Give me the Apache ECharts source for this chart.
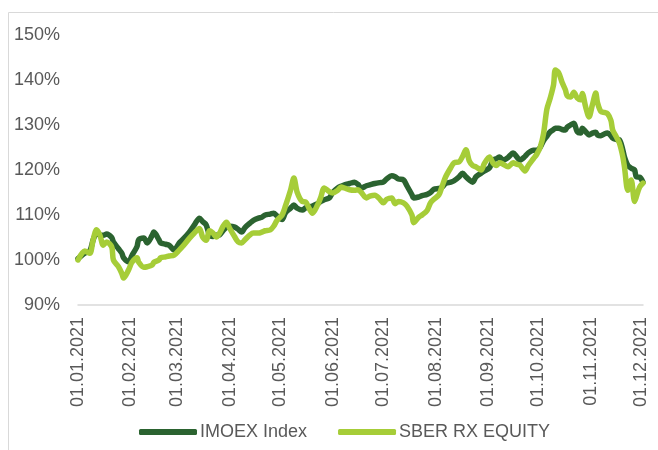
<!DOCTYPE html>
<html>
<head>
<meta charset="utf-8">
<script src="https://cdn.jsdelivr.net/npm/echarts@6/dist/echarts.min.js"></script>
<style>
    html, body { margin: 0; padding: 0; background: #fff; }
    #chart { width: 658px; height: 450px; }
</style>
</head>
<body>
<div id="chart"></div>
<script>
// days since 01.01.2021
let days = [0, 4, 7, 9, 11, 13, 15, 17, 20, 21, 24, 26, 27, 30, 32, 35, 36, 39, 41, 44, 45, 48, 49, 52, 54, 57,
    60, 62, 66, 69, 72, 74, 76, 78, 80, 82, 84, 86, 88, 90, 93, 95, 97, 99, 102, 104, 107, 109, 111, 114, 116, 118,
    121, 123, 126, 128, 130, 133, 135, 137, 139, 142, 144, 146, 149, 151, 154, 156, 158, 161, 164, 166, 168, 171,
    173, 176, 179, 181, 183, 186, 188, 190, 193, 195, 198, 199, 202, 204, 207, 209, 211, 214, 216, 218, 221, 223,
    226, 228, 230, 232, 234, 236, 239, 241, 244, 246, 248, 250, 252, 255, 258, 260, 262, 265, 267, 270, 272, 274,
    276, 278, 280, 282, 283, 285, 287, 289, 290, 292, 294, 296, 298, 299, 301, 303, 305, 307, 308, 310, 312, 314,
    316, 317, 319, 321, 323, 324, 326, 328, 330, 331, 333, 335];

let imoex = [100.3, 101.5, 102.0, 104.5, 106.0, 105.5, 105.5, 105.8, 105.0, 104.0, 102.5, 101.5, 100.5, 99.6, 101.0,
    103.0, 104.5, 104.9, 103.8, 105.5, 106.2, 104.5, 103.8, 103.5, 103.3, 102.2,
    103.8, 104.5, 106.2, 107.8, 109.3, 108.5, 107.8, 105.5, 105.2, 105.5, 105.6, 106.5, 107.3, 107.5, 107.3, 106.8,
    106.2, 107.2, 108.2, 108.8, 109.3, 109.5, 110.0, 110.2, 110.4, 109.8,
    109.0, 110.5, 111.5, 112.2, 111.5, 111.1, 111.6, 111.8, 112.0, 112.5, 113.0, 113.4, 113.8, 115.0, 116.0, 116.4,
    116.7, 117.0, 117.3, 116.8, 116.0, 116.5,
    116.7, 117.0, 117.2, 117.3, 118.0, 118.7, 118.5, 118.0, 117.8, 116.5, 114.5, 113.8, 114.0, 114.3, 114.6, 115.0,
    115.7, 115.9, 116.2, 117.0, 117.3, 117.6,
    118.5, 119.3, 118.5, 117.8, 117.3, 118.5, 119.3, 119.8, 120.5, 122.2, 122.5, 122.9, 122.2, 122.8, 123.8, 123.0,
    122.2, 123.0, 123.8, 124.4, 124.4, 125.0,
    126.5, 127.5, 128.5, 129.0, 129.3, 129.3, 129.0, 128.9, 129.5, 130.0, 130.4, 128.5, 128.2, 129.3, 128.5, 127.8,
    128.2, 128.4, 127.8, 127.6, 128.0, 128.2,
    127.6, 127.1, 126.8, 126.7, 124.5, 122.9, 121.0, 120.4, 120.0, 118.5, 118.4, 117.3];

let sber = [100.0, 102.0, 101.5, 104.5, 106.7, 105.5, 103.3, 104.0, 102.9, 100.0, 98.5, 97.0, 96.0, 97.8, 99.5,
    100.5, 99.5, 98.4, 98.5, 98.9, 99.5, 100.0, 100.5, 100.7, 100.9, 101.1,
    102.2, 103.0, 104.8, 106.0, 107.0, 105.0, 104.4, 106.5, 106.0, 105.1, 106.0, 107.5, 108.4, 107.0, 105.1, 104.0,
    103.8, 104.5, 105.6, 106.0, 106.0, 106.2, 106.5, 106.7, 107.5, 108.8,
    110.0, 112.0, 115.5, 118.2, 115.0, 113.0, 112.9, 111.5, 110.4, 112.2, 114.0, 116.0, 115.2, 114.9, 115.5, 116.2,
    116.0, 115.6, 115.5, 115.6, 115.0, 113.8,
    114.2, 114.4, 113.5, 112.7, 113.5, 113.8, 112.5, 113.0, 112.7, 112.0, 110.0, 108.3, 109.5, 110.0, 111.0, 112.7,
    113.5, 114.5, 116.5, 118.5, 120.5, 121.6,
    121.8, 123.0, 124.5, 122.0, 121.0, 120.7, 120.0, 121.5, 122.9, 121.6, 121.0, 121.6, 121.3, 120.7, 121.6, 121.3,
    121.1, 119.8, 121.0, 122.5, 123.5, 125.0,
    128.0, 133.5, 136.0, 139.0, 142.2, 141.6, 139.5, 137.8, 136.5, 136.2, 137.3, 136.0, 135.6, 137.0, 134.0, 131.8,
    134.5, 137.1, 135.0, 133.0, 132.8, 132.5,
    131.0, 128.9, 127.5, 126.0, 123.0, 120.7, 115.5, 117.8, 113.0, 114.0, 116.2, 117.1];

let tickDays = [0, 31, 59, 90, 120, 151, 181, 212, 243, 273, 304, 334];
let tickLabels = ["01.01.2021", "01.02.2021", "01.03.2021", "01.04.2021", "01.05.2021", "01.06.2021",
    "01.07.2021", "01.08.2021", "01.09.2021", "01.10.2021", "01.11.2021", "01.12.2021"];

let seriesNames = ["IMOEX Index", "SBER RX EQUITY"];
let colors = ["#2b6330", "#a6cd38"];

function paintChart(element) {
    let chart = echarts.init(document.getElementById(element));
    let textColor = "#595959";
    let font = "Liberation Sans, Arial, sans-serif";
    let option = {
        animation: false,
        color: colors,
        textStyle: {
            fontFamily: font
        },
        graphic: [
            {
                type: "rect",
                shape: { x: 8.5, y: 12.5, width: 700, height: 500 },
                style: { fill: "none", stroke: "#d9d9d9", lineWidth: 1 },
                silent: true
            }
        ],
        grid: {
            left: 78,
            right: 15,
            top: 35,
            bottom: 145
        },
        legend: {
            bottom: 4,
            left: 134,
            icon: "roundRect",
            itemWidth: 58,
            itemHeight: 6,
            itemGap: 31,
            textStyle: {
                color: textColor,
                fontSize: 18,
                fontFamily: font,
                padding: [0, 0, 0, -2]
            },
            data: seriesNames
        },
        xAxis: {
            type: "value",
            min: 0,
            max: 335,
            splitLine: { show: false },
            axisLine: {
                lineStyle: { color: "#d9d9d9", width: 1.5 }
            },
            axisTick: { show: false },
            axisLabel: {
                customValues: tickDays,
                rotate: 90,
                margin: 12,
                color: textColor,
                fontSize: 18,
                fontFamily: font,
                formatter: function (value) {
                    let i = tickDays.indexOf(value);
                    return i < 0 ? "" : tickLabels[i];
                }
            }
        },
        yAxis: {
            type: "value",
            min: 90,
            max: 150,
            interval: 10,
            splitLine: { show: false },
            axisLine: { show: false },
            axisTick: { show: false },
            axisLabel: {
                margin: 18,
                color: textColor,
                fontSize: 18,
                fontFamily: font,
                formatter: "{value}%"
            }
        },
        series: [
            {
                name: seriesNames[0],
                type: "line",
                data: days.map((d, i) => [d, imoex[i]]),
                showSymbol: false,
                smooth: 0.3,
                lineStyle: { width: 5.5, cap: "round", join: "round" }
            },
            {
                name: seriesNames[1],
                type: "line",
                data: days.map((d, i) => [d, sber[i]]),
                showSymbol: false,
                smooth: 0.3,
                lineStyle: { width: 5.5, cap: "round", join: "round" }
            }
        ]
    };
    chart.setOption(option);
    window.onresize = function () {
        chart.resize();
    };
}

paintChart("chart");
</script>
</body>
</html>
